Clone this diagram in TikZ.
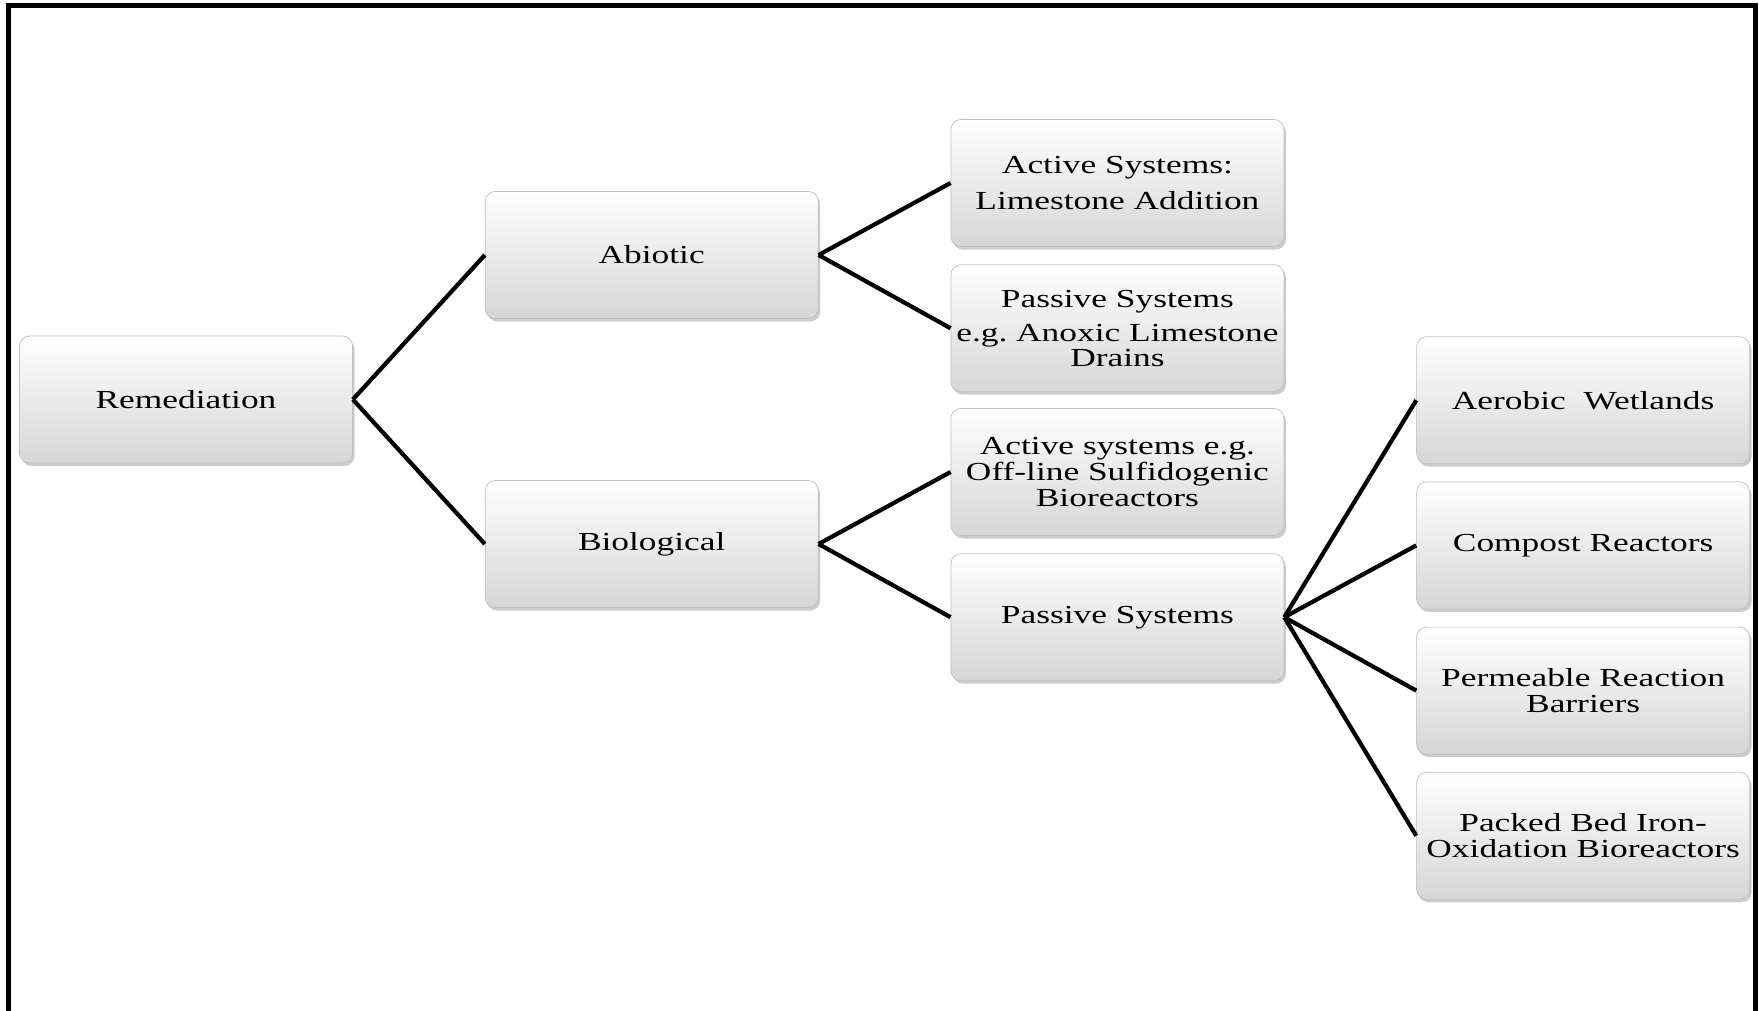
\documentclass[tikz,border=0pt]{standalone}
\usepackage{fontspec}
\setmainfont{Liberation Serif}[FakeStretch=1.36]
\usetikzlibrary{positioning,shadows}
\tikzset{
    box/.style = {
        draw = gray!50,
        rounded corners = 0.2cm,
        top color = white,
        bottom color = gray!32,
        minimum width = 6.66cm,
        minimum height = 2.54cm,
        inner sep = 0.05cm,
        align = center,
        font = \fontsize{14.8}{14.8}\selectfont,
        drop shadow = {shadow xshift=0.04cm, shadow yshift=-0.06cm, opacity=0.4},
        },
    conn/.style = {
        draw = black,
        line width = 2.4pt,
        },
    frame/.style = {
        line width = 0.1cm,
        },
}

\begin{document}
\begin{tikzpicture}
            \useasboundingbox (0,0) rectangle (35.18,-20.2);
            \draw[frame] (0.18,-20.4) -- (0.18,-0.11) -- (35.1,-0.11) -- (35.1,-20.4);

            \node[box] (rem) at (3.72,-7.99) {Remediation};
            \node[box, right=2.64cm of rem, yshift=2.89cm] (abio) {Abiotic};
            \node[box, right=2.64cm of rem, yshift=-2.89cm] (bio) {Biological};
            \node[box, right=2.64cm of abio, yshift=1.44cm] (abio act) {Active Systems:\\[6pt]Limestone Addition};
            \node[box, below=0.35cm of abio act] (abio pas) {Passive Systems\\[5pt]e.g.\ Anoxic Limestone\\[-1pt]Drains};
            \node[box, right=2.64cm of bio, yshift=1.44cm] (bio act) {Active systems e.g.\\Off-line Sulfidogenic\\Bioreactors};
            \node[box, below=0.35cm of bio act] (bio pas) {Passive Systems};
            \node[box, right=2.64cm of bio pas, yshift=4.34cm] (wet) {Aerobic\ \ Wetlands};
            \node[box, below=0.35cm of wet] (comp) {Compost Reactors};
            \node[box, below=0.35cm of comp] (prb) {Permeable Reaction\\Barriers};
            \node[box, below=0.35cm of prb] (pbr) {Packed Bed Iron-\\Oxidation Bioreactors};

            \path (rem.east) edge[conn] (abio.west);
            \path (rem.east) edge[conn] (bio.west);
            \path (abio.east) edge[conn] (abio act.west);
            \path (abio.east) edge[conn] (abio pas.west);
            \path (bio.east) edge[conn] (bio act.west);
            \path (bio.east) edge[conn] (bio pas.west);
            \path (bio pas.east) edge[conn] (wet.west);
            \path (bio pas.east) edge[conn] (comp.west);
            \path (bio pas.east) edge[conn] (prb.west);
            \path (bio pas.east) edge[conn] (pbr.west);
        \end{tikzpicture}
\end{document}
